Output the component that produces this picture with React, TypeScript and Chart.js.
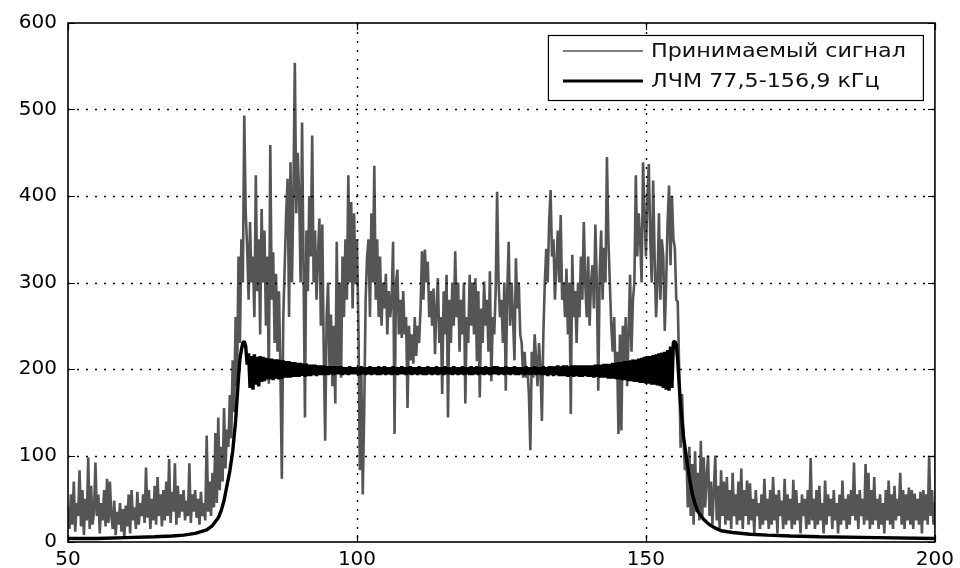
import React, { useEffect, useRef } from 'react';
import { Chart, registerables } from 'chart.js';

Chart.register(...registerables);

// Sampling grid of the received spectrum (kHz)
const FREQ_START = 50;
const FREQ_STEP = 0.25;

// Received signal magnitude, one value every 0.25 kHz from 50 to 200 kHz
const SIGNAL = [
  40, 15, 55, 20, 70, 12, 45, 30, 83, 18, 60, 8, 50, 25, 98, 15, 65, 20, 35, 92,
  30, 55, 10, 45, 25, 60, 18, 73, 22, 70, 30, 15, 48, 8, 35, 20, 45, 12, 38, 5,
  42, 18, 55, 10, 60, 25, 40, 15, 58, 20, 45, 30, 55, 22, 86, 28, 60, 15, 50, 25,
  65, 20, 75, 30, 55, 18, 60, 25, 70, 30, 96, 22, 58, 35, 91, 20, 65, 28, 55, 35,
  60, 25, 48, 30, 91, 22, 55, 35, 60, 28, 50, 20, 58, 30, 45, 25, 123, 35, 70, 30,
  80, 40, 126, 45, 144, 60, 110, 70, 155, 85, 130, 110, 170, 120, 210, 150, 260, 180, 330, 230,
  350, 300, 493, 380, 340, 280, 370, 300, 330, 260, 424, 290, 350, 240, 385, 300, 360, 250, 330, 183,
  459, 280, 335, 230, 310, 220, 290, 200, 73, 260, 320, 380, 420, 260, 439, 300, 400, 554, 380, 450,
  400, 300, 485, 320, 144, 360, 290, 400, 330, 470, 300, 360, 280, 330, 374, 250, 367, 220, 117, 260,
  300, 200, 263, 180, 250, 160, 347, 200, 300, 190, 330, 260, 350, 280, 424, 300, 393, 270, 380, 298,
  350, 250, 83, 200, 55, 150, 280, 330, 350, 260, 380, 300, 435, 280, 350, 260, 330, 250, 300, 270,
  310, 240, 290, 260, 280, 347, 125, 300, 315, 240, 280, 236, 290, 240, 260, 155, 250, 210, 240, 206,
  260, 215, 250, 230, 270, 336, 280, 338, 300, 324, 260, 290, 250, 293, 217, 270, 305, 230, 260, 171,
  290, 240, 309, 144, 280, 230, 300, 250, 336, 260, 300, 220, 280, 240, 300, 160, 260, 230, 309, 250,
  300, 240, 305, 209, 290, 167, 270, 230, 301, 250, 280, 220, 313, 186, 260, 240, 290, 405, 300, 260,
  280, 230, 300, 175, 290, 347, 250, 300, 260, 210, 328, 270, 300, 240, 230, 190, 220, 190, 200, 171,
  106, 220, 190, 240, 210, 180, 230, 200, 140, 240, 300, 339, 300, 370, 407, 330, 350, 280, 320, 360,
  300, 378, 280, 300, 260, 316, 240, 300, 148, 332, 260, 290, 230, 300, 260, 330, 280, 370, 300, 260,
  330, 250, 300, 320, 270, 367, 300, 175, 310, 360, 280, 340, 300, 445, 351, 300, 250, 220, 260, 190,
  220, 125, 240, 129, 250, 200, 260, 180, 240, 309, 220, 280, 300, 424, 330, 380, 350, 300, 439, 380,
  330, 400, 437, 350, 300, 418, 330, 260, 300, 380, 280, 350, 330, 244, 300, 370, 412, 320, 400, 350,
  340, 280, 278, 200, 109, 171, 120, 83, 100, 40, 110, 30, 90, 20, 105, 35, 80, 25, 117, 30,
  98, 40, 75, 100, 30, 70, 20, 60, 100, 25, 65, 15, 83, 30, 70, 20, 75, 25, 60, 15,
  80, 30, 55, 20, 70, 25, 85, 15, 60, 30, 71, 20, 68, 25, 50, 10, 60, 30, 45, 15,
  55, 20, 73, 25, 50, 15, 60, 20, 75, 25, 55, 10, 60, 30, 48, 15, 73, 20, 55, 25,
  50, 15, 72, 20, 60, 25, 45, 10, 55, 30, 50, 15, 60, 20, 97, 25, 50, 15, 60, 20,
  65, 25, 45, 10, 71, 20, 55, 30, 50, 15, 60, 25, 45, 10, 55, 20, 71, 25, 50, 15,
  55, 20, 60, 30, 92, 25, 55, 15, 60, 30, 50, 20, 90, 25, 80, 15, 60, 20, 75, 25,
  50, 15, 55, 20, 45, 10, 60, 25, 71, 20, 55, 15, 65, 25, 50, 30, 80, 20, 60, 15,
  55, 25, 63, 20, 60, 15, 56, 25, 50, 20, 58, 10, 60, 25, 55, 20, 100, 30, 60, 20,
  45,
];

// LFM reference: rising edge (sparse samples)
const LFM_RISE_FREQ = [50, 55, 60, 65, 68, 70, 72, 74, 75, 76, 76.5, 77, 77.5, 78, 78.5, 79, 79.25, 79.5, 79.75];
const LFM_RISE = [4, 4, 5, 6, 7, 8, 10, 14, 19, 28, 36, 48, 65, 82, 105, 140, 165, 190, 212];

// LFM reference: oscillating plateau, one value every 0.25 kHz from 80 to 155 kHz
const LFM_BAND_START = 80;
const LFM_BAND = [
  222, 230, 232, 226, 205, 218, 178, 215, 176, 217, 182, 214, 180, 215, 185, 214, 186, 213, 188, 212,
  188, 212, 187, 211, 189, 211, 188, 210, 189, 210, 190, 209, 190, 209, 190, 208, 191, 208, 191, 207,
  191, 207, 192, 206, 191, 206, 192, 205, 192, 205, 193, 205, 192, 204, 193, 204, 193, 204, 193, 203,
  193, 203, 194, 203, 193, 203, 194, 203, 194, 203, 193, 202, 194, 202, 193, 203, 194, 202, 194, 202,
  194, 202, 193, 203, 194, 202, 193, 202, 194, 203, 193, 202, 194, 202, 193, 203,
  193, 202, 194, 203, 193, 202, 194, 202, 193, 203, 194, 202, 193, 202, 194, 203,
  194, 202, 193, 202, 194, 203, 193, 202, 194, 202, 193, 203, 194, 202, 193, 202,
  193, 203, 194, 202, 193, 202, 194, 203, 193, 202, 194, 202, 193, 203, 194, 202,
  194, 202, 193, 203, 194, 202, 193, 202, 194, 203, 193, 202, 194, 202, 193, 203,
  193, 202, 194, 203, 193, 202, 194, 202, 193, 203, 194, 202, 193, 202, 194, 203,
  194, 203, 193, 202, 194, 202, 193, 203, 194, 202, 193, 202, 194, 203, 193, 202,
  193, 202, 194, 202, 193, 203, 194, 202, 193, 202, 194, 203, 193, 202, 194, 202,
  193, 203, 193, 202, 192, 203, 193, 203, 192, 203, 193, 204, 192, 203, 192, 204,
  192, 204, 191, 203, 192, 204, 191, 204, 192, 204, 191, 204, 191, 204, 192, 204,
  191, 204, 191, 204, 190, 205, 191, 205, 190, 205, 190, 206, 190, 206, 189, 206,
  189, 207, 189, 207, 188, 208, 188, 208, 187, 209, 187, 209, 186, 210, 186, 211,
  185, 211, 185, 212, 184, 213, 184, 214, 183, 215, 183, 215, 182, 216, 182, 217,
  181, 218, 180, 219, 178, 220, 176, 222, 175, 226, 178, 231,
  232,
];

// LFM reference: falling edge (sparse samples)
const LFM_FALL_FREQ = [155.25, 155.5, 155.75, 156, 156.5, 157, 157.5, 158, 158.5, 159, 160, 161, 162, 163, 165, 168, 171, 175, 180, 190, 200];
const LFM_FALL = [228, 210, 182, 158, 122, 98, 75, 56, 44, 35, 26, 20, 16, 13, 11, 9, 8, 7, 6, 5, 4];

const SERIES_LABELS = ['Принимаемый сигнал', 'ЛЧМ 77,5-156,9 кГц'];
const X_RANGE = [50, 200];
const X_STEP = 50;
const Y_RANGE = [0, 600];
const Y_STEP = 100;

const GRAY = '#555555';
const FONT = 'DejaVu Sans';

function drawGrid(chart: any) {
  const { ctx, chartArea: a, scales } = chart;
  ctx.save();
  ctx.strokeStyle = '#000000';
  ctx.lineWidth = 1.4;
  ctx.setLineDash([2, 7]);
  ctx.beginPath();
  for (const t of scales.y.ticks) {
    if (t.value <= scales.y.min || t.value >= scales.y.max) continue;
    const y = Math.round(scales.y.getPixelForValue(t.value)) + 0.5;
    ctx.moveTo(a.left, y);
    ctx.lineTo(a.right, y);
  }
  for (const t of scales.x.ticks) {
    if (t.value <= scales.x.min || t.value >= scales.x.max) continue;
    const x = Math.round(scales.x.getPixelForValue(t.value)) + 0.5;
    ctx.moveTo(x, a.top);
    ctx.lineTo(x, a.bottom);
  }
  ctx.stroke();
  ctx.restore();
}

const matlabPlugin = {
  id: 'matlabFrame',
  afterDatasetsDraw(chart: any) {
    drawGrid(chart);
    const { ctx, chartArea: a, scales } = chart;
    ctx.save();
    ctx.setLineDash([]);
    // frame
    ctx.strokeStyle = '#000';
    ctx.lineWidth = 1.6;
    ctx.strokeRect(a.left, a.top, a.right - a.left, a.bottom - a.top);
    // inward tick marks
    const tl = 7;
    ctx.lineWidth = 1.2;
    ctx.beginPath();
    for (const t of scales.y.ticks) {
      const y = Math.round(scales.y.getPixelForValue(t.value)) + 0.5;
      ctx.moveTo(a.left, y); ctx.lineTo(a.left + tl, y);
      ctx.moveTo(a.right, y); ctx.lineTo(a.right - tl, y);
    }
    for (const t of scales.x.ticks) {
      const x = Math.round(scales.x.getPixelForValue(t.value)) + 0.5;
      ctx.moveTo(x, a.bottom); ctx.lineTo(x, a.bottom - tl);
      ctx.moveTo(x, a.top); ctx.lineTo(x, a.top + tl);
    }
    ctx.stroke();

    // legend box
    const bw = 375, bh = 65;
    const bx = a.right - 12 - bw;
    const by = a.top + 12;
    ctx.fillStyle = '#fff';
    ctx.fillRect(bx, by, bw, bh);
    ctx.lineWidth = 1.2;
    ctx.strokeStyle = '#000';
    ctx.strokeRect(bx + 0.5, by + 0.5, bw, bh);
    ctx.font = `19px "${FONT}"`;
    ctx.textBaseline = 'middle';
    const w0 = ctx.measureText(SERIES_LABELS[0]).width;
    const sx = 255 / w0;
    const ds = chart.data.datasets;
    SERIES_LABELS.forEach((label, i) => {
      const ly = by + 16 + i * 30;
      ctx.beginPath();
      ctx.strokeStyle = ds[i].borderColor;
      ctx.lineWidth = i === 0 ? 1.3 : 3;
      ctx.moveTo(bx + 15, ly);
      ctx.lineTo(bx + 95, ly);
      ctx.stroke();
      ctx.save();
      ctx.translate(bx + 103, ly + 1);
      ctx.scale(sx, 1);
      ctx.fillStyle = '#111';
      ctx.fillText(label, 0, 0);
      ctx.restore();
    });
    ctx.restore();
  },
};

export default function App() {
  const ref = useRef<HTMLCanvasElement | null>(null);
  useEffect(() => {
    if (!ref.current) return;
    Chart.defaults.font.family = FONT;
    const signalData = SIGNAL.map((v, i) => ({ x: FREQ_START + i * FREQ_STEP, y: v }));
    const lfmData = [
      ...LFM_RISE_FREQ.map((f, i) => ({ x: f, y: LFM_RISE[i] })),
      ...LFM_BAND.map((v, i) => ({ x: LFM_BAND_START + i * FREQ_STEP, y: v })),
      ...LFM_FALL_FREQ.map((f, i) => ({ x: f, y: LFM_FALL[i] })),
    ];
    const chart = new Chart(ref.current, {
      type: 'line',
      data: {
        datasets: [
          {
            label: SERIES_LABELS[0],
            data: signalData,
            borderColor: GRAY,
            borderWidth: 2.6,
            borderJoinStyle: 'bevel',
            pointRadius: 0,
            tension: 0,
            order: 2,
          },
          {
            label: SERIES_LABELS[1],
            data: lfmData,
            borderColor: '#000',
            borderWidth: 3.4,
            borderJoinStyle: 'bevel',
            pointRadius: 0,
            tension: 0,
            order: 1,
          },
        ],
      },
      options: {
        animation: false,
        responsive: false,
        maintainAspectRatio: false,
        events: [],
        layout: { padding: { top: 20, right: 21, left: 0, bottom: 0 } },
        plugins: { legend: { display: false }, tooltip: { enabled: false } },
        scales: {
          x: {
            type: 'linear',
            min: X_RANGE[0],
            max: X_RANGE[1],
            ticks: { stepSize: X_STEP, color: '#000', font: { size: 20, family: FONT }, padding: 6, maxRotation: 0 },
            grid: { display: false, drawTicks: false },
            border: { display: false },
            afterFit: (s: any) => { s.height = 26; },
          },
          y: {
            min: Y_RANGE[0],
            max: Y_RANGE[1],
            ticks: { stepSize: Y_STEP, color: '#000', font: { size: 20, family: FONT }, padding: 11 },
            grid: { display: false, drawTicks: false },
            border: { display: false },
            afterFit: (s: any) => { s.width = 68; },
          },
        },
      },
      plugins: [matlabPlugin],
    });
    return () => chart.destroy();
  }, []);
  return (
    <div style={{ position: 'fixed', left: 0, top: 0, width: 960, height: 568, background: '#fff' }}>
      <canvas ref={ref} width={960} height={568} />
    </div>
  );
}
